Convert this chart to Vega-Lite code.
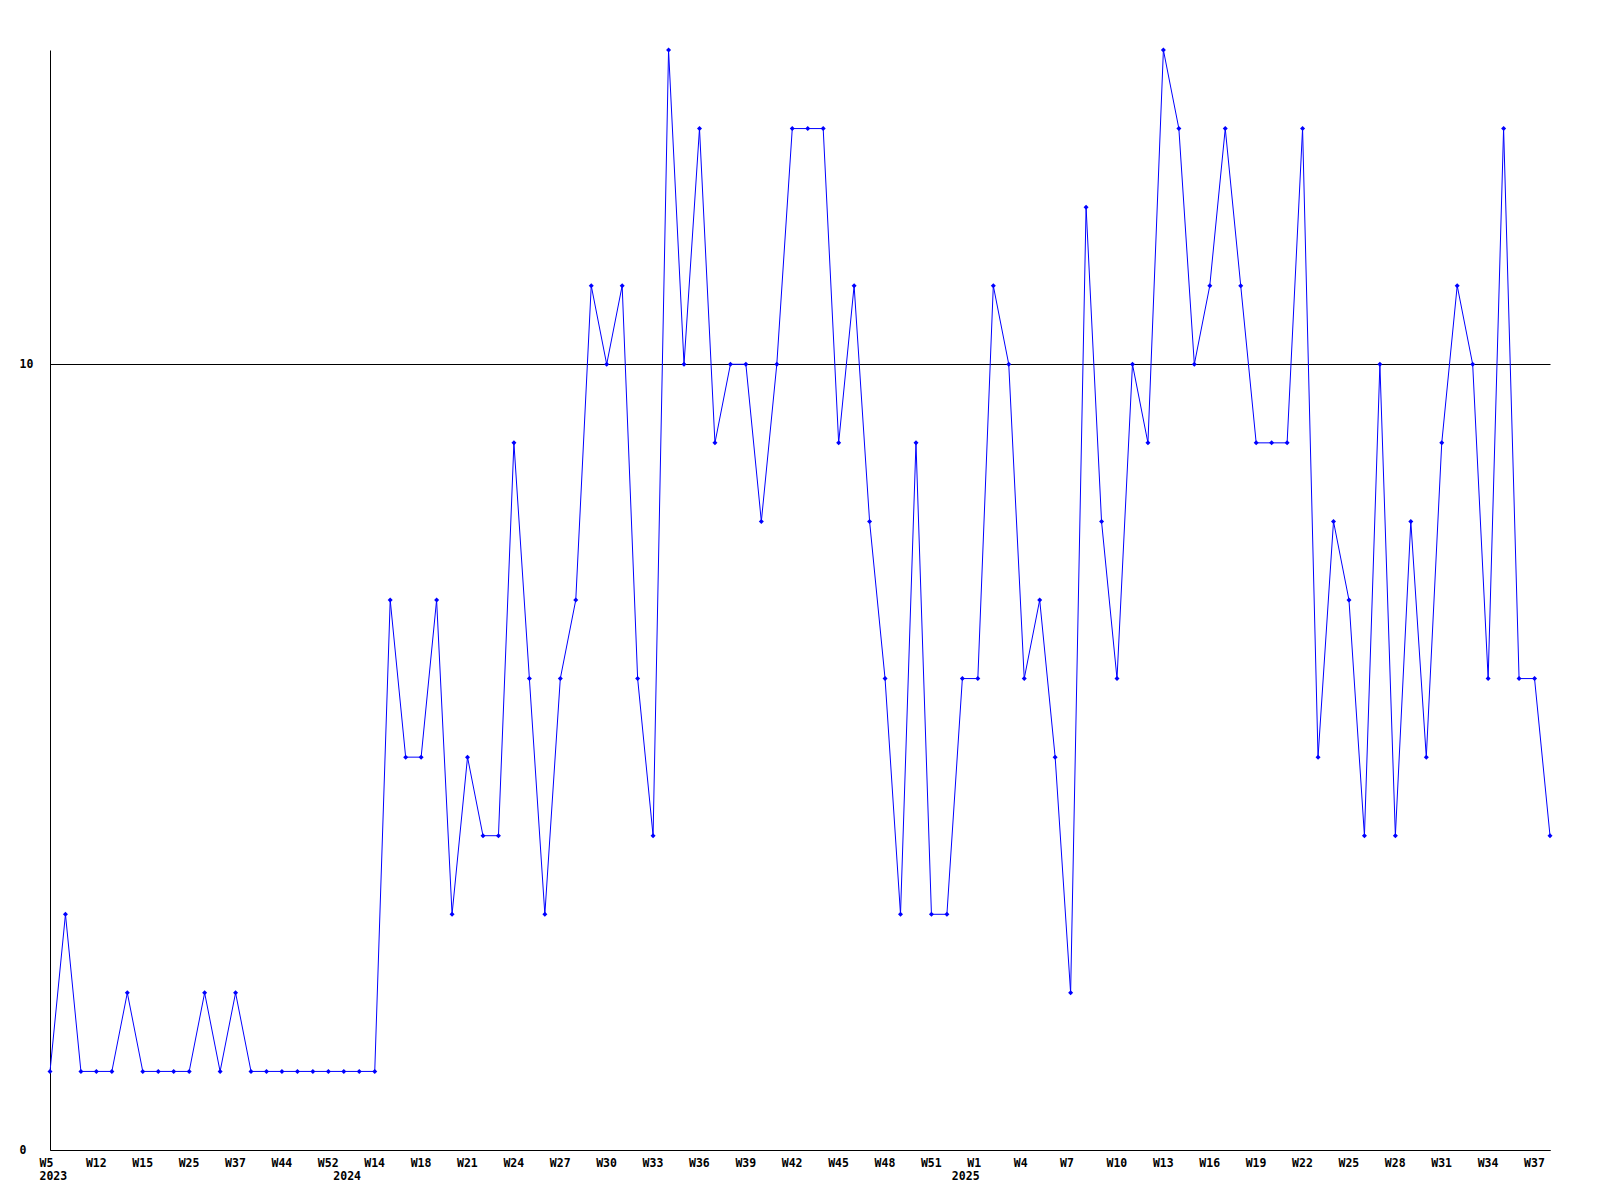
{
  "$schema": "https://vega.github.io/schema/vega-lite/v6.json",
  "width": 1500,
  "height": 1100,
  "autosize": {"type": "none"},
  "padding": {"left": 50, "top": 50, "right": 50, "bottom": 50},
  "background": "white",
  "config": {"view": {"stroke": null}, "font": "DejaVu Sans Mono"},
  "data": {
    "values": [
      {"i": 0, "v": 1}, {"i": 1, "v": 3}, {"i": 2, "v": 1}, {"i": 3, "v": 1}, {"i": 4, "v": 1},
      {"i": 5, "v": 2}, {"i": 6, "v": 1}, {"i": 7, "v": 1}, {"i": 8, "v": 1}, {"i": 9, "v": 1},
      {"i": 10, "v": 2}, {"i": 11, "v": 1}, {"i": 12, "v": 2}, {"i": 13, "v": 1}, {"i": 14, "v": 1},
      {"i": 15, "v": 1}, {"i": 16, "v": 1}, {"i": 17, "v": 1}, {"i": 18, "v": 1}, {"i": 19, "v": 1},
      {"i": 20, "v": 1}, {"i": 21, "v": 1}, {"i": 22, "v": 7}, {"i": 23, "v": 5}, {"i": 24, "v": 5},
      {"i": 25, "v": 7}, {"i": 26, "v": 3}, {"i": 27, "v": 5}, {"i": 28, "v": 4}, {"i": 29, "v": 4},
      {"i": 30, "v": 9}, {"i": 31, "v": 6}, {"i": 32, "v": 3}, {"i": 33, "v": 6}, {"i": 34, "v": 7},
      {"i": 35, "v": 11}, {"i": 36, "v": 10}, {"i": 37, "v": 11}, {"i": 38, "v": 6}, {"i": 39, "v": 4},
      {"i": 40, "v": 14}, {"i": 41, "v": 10}, {"i": 42, "v": 13}, {"i": 43, "v": 9}, {"i": 44, "v": 10},
      {"i": 45, "v": 10}, {"i": 46, "v": 8}, {"i": 47, "v": 10}, {"i": 48, "v": 13}, {"i": 49, "v": 13},
      {"i": 50, "v": 13}, {"i": 51, "v": 9}, {"i": 52, "v": 11}, {"i": 53, "v": 8}, {"i": 54, "v": 6},
      {"i": 55, "v": 3}, {"i": 56, "v": 9}, {"i": 57, "v": 3}, {"i": 58, "v": 3}, {"i": 59, "v": 6},
      {"i": 60, "v": 6}, {"i": 61, "v": 11}, {"i": 62, "v": 10}, {"i": 63, "v": 6}, {"i": 64, "v": 7},
      {"i": 65, "v": 5}, {"i": 66, "v": 2}, {"i": 67, "v": 12}, {"i": 68, "v": 8}, {"i": 69, "v": 6},
      {"i": 70, "v": 10}, {"i": 71, "v": 9}, {"i": 72, "v": 14}, {"i": 73, "v": 13}, {"i": 74, "v": 10},
      {"i": 75, "v": 11}, {"i": 76, "v": 13}, {"i": 77, "v": 11}, {"i": 78, "v": 9}, {"i": 79, "v": 9},
      {"i": 80, "v": 9}, {"i": 81, "v": 13}, {"i": 82, "v": 5}, {"i": 83, "v": 8}, {"i": 84, "v": 7},
      {"i": 85, "v": 4}, {"i": 86, "v": 10}, {"i": 87, "v": 4}, {"i": 88, "v": 8}, {"i": 89, "v": 5},
      {"i": 90, "v": 9}, {"i": 91, "v": 11}, {"i": 92, "v": 10}, {"i": 93, "v": 6}, {"i": 94, "v": 13},
      {"i": 95, "v": 6}, {"i": 96, "v": 6}, {"i": 97, "v": 4}
    ]
  },
  "encoding": {
    "x": {
      "field": "i",
      "type": "quantitative",
      "scale": {"domain": [0, 97], "nice": false, "zero": false},
      "axis": {
        "title": null,
        "values": [0, 3, 6, 9, 12, 15, 18, 19, 21, 24, 27, 30, 33, 36, 39, 42, 45, 48, 51, 54, 57, 59, 60, 63, 66, 69, 72, 75, 78, 81, 84, 87, 90, 93, 96],
        "labelExpr": "datum.value == 0 ? ['W5', '2023'] : datum.value == 19 ? [' ', '2024'] : datum.value == 59 ? [' ', '2025'] : ['W5','W12','W15','W25','W37','W44','W52','W14','W18','W21','W24','W27','W30','W33','W36','W39','W42','W45','W48','W51','W1','W4','W7','W10','W13','W16','W19','W22','W25','W28','W31','W34','W37'][floor(datum.value / 3)]",
        "labelAlign": "left",
        "labelOffset": -11,
        "labelBaseline": "top",
        "labelPadding": 7,
        "labelLineHeight": 13.5,
        "labelOverlap": false,
        "labelFlush": false,
        "labelBound": false,
        "ticks": false,
        "tickSize": 0,
        "grid": false,
        "domainColor": "black",
        "domainWidth": 1,
        "labelColor": "black",
        "labelFont": "DejaVu Sans Mono",
        "labelFontWeight": "bold",
        "labelFontSize": 11.5
      }
    },
    "y": {
      "field": "v",
      "type": "quantitative",
      "scale": {"domain": [0, 14], "nice": false, "zero": true},
      "axis": {
        "title": null,
        "values": [0, 10],
        "ticks": false,
        "tickSize": 0,
        "labelAlign": "left",
        "labelBaseline": "middle",
        "labelPadding": 31,
        "labelOverlap": false,
        "labelFlush": false,
        "grid": true,
        "gridColor": "black",
        "gridOpacity": 1,
        "gridWidth": 1,
        "domainColor": "black",
        "domainWidth": 1,
        "labelColor": "black",
        "labelFont": "DejaVu Sans Mono",
        "labelFontWeight": "bold",
        "labelFontSize": 11.5
      }
    }
  },
  "layer": [
    {"mark": {"type": "line", "color": "#0000ff", "strokeWidth": 1}},
    {"mark": {"type": "point", "shape": "diamond", "filled": true, "color": "#0000ff", "size": 25, "opacity": 1}}
  ]
}
